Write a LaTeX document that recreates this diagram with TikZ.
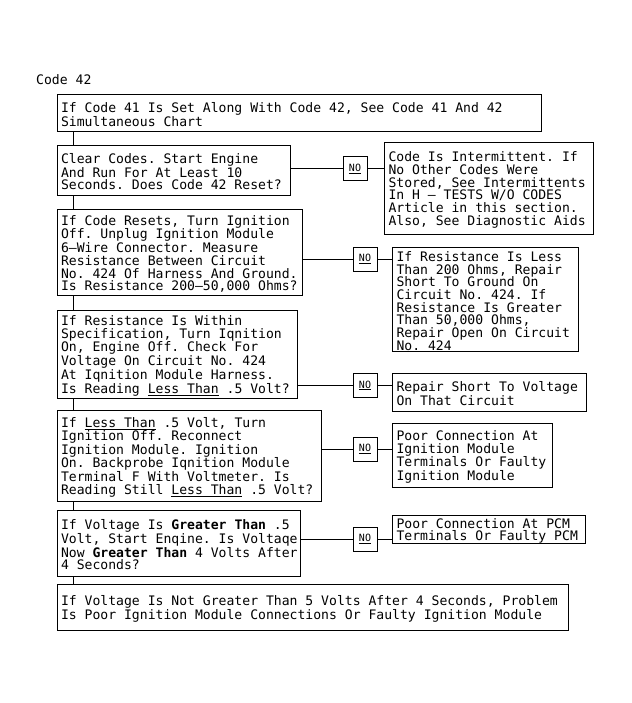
\documentclass[tikz,border=0pt]{standalone}
\usepackage{fontspec}
\newfontfamily\monof{DejaVu Sans Mono}
\newcommand\TL[1]{\par\noindent\mbox{\frenchspacing\spaceskip=0pt\xspaceskip=0pt #1}}
\tikzset{
  mbox/.style={draw, line width=1pt, anchor=north west, inner xsep=4pt, inner ysep=0pt,
    font=\monof\fontsize{13.1}{12.7}\selectfont},
  nobox/.style={draw, line width=1pt, minimum width=24pt, minimum height=24pt, inner sep=0pt,
    font=\monof\fontsize{10}{12}\selectfont},
  conn/.style={line width=1pt},
  ttl/.style={anchor=base west, inner sep=0pt, font=\monof\fontsize{13.1}{12.7}\selectfont}
}
\begin{document}
\begin{tikzpicture}[x=1pt,y=-1pt]
\useasboundingbox[fill=white] (0,0) rectangle (631,703);
\node[ttl] (title) at (36,85) {\TL{Code 42}};
% main column
\node[mbox, text width=476pt, minimum height=37pt] (b1) at (56.5,94)
  {\TL{If Code 41 Is Set Along With Code 42, See Code 41 And 42}\TL{Simultaneous Chart}};
\node[mbox, text width=225pt, minimum height=50pt] (b2) at (56.5,145)
  {\TL{Clear Codes. Start Engine}\TL{And Run For At Least 10}\TL{Seconds. Does Code 42 Reset?}};
\node[mbox, text width=237pt, minimum height=86pt] (b3) at (56.5,209)
  {\TL{If Code Resets, Turn Ignition}\TL{Off. Unplug Ignition Module}\TL{6–Wire Connector. Measure}\TL{Resistance Between Circuit}\TL{No. 424 Of Harness And Ground.}\TL{Is Resistance 200–50,000 Ohms?}};
\node[mbox, text width=232pt, minimum height=88pt] (b4) at (56.5,310)
  {\TL{If Resistance Is Within}\TL{Specification, Turn Iqnition}\TL{On, Engine Off. Check For}\TL{Voltage On Circuit No. 424}\TL{At Iqnition Module Harness.}\TL{Is Reading \underline{Less Than} .5 Volt?}};
\node[mbox, text width=256pt, minimum height=91pt] (b5) at (56.5,410)
  {\TL{If \underline{Less Than} .5 Volt, Turn}\TL{Ignition Off. Reconnect}\TL{Ignition Module. Ignition}\TL{On. Backprobe Iqnition Module}\TL{Terminal F With Voltmeter. Is}\TL{Reading Still \underline{Less Than} .5 Volt?}};
\node[mbox, text width=235pt, minimum height=66pt] (b6) at (56.5,510)
  {\TL{If Voltage Is \textbf{Greater Than} .5}\TL{Volt, Start Enqine. Is Voltaqe}\TL{Now \textbf{Greater Than} 4 Volts After}\TL{4 Seconds?}};
\node[mbox, text width=503pt, minimum height=46pt] (b7) at (56.5,584)
  {\TL{If Voltage Is Not Greater Than 5 Volts After 4 Seconds, Problem}\TL{Is Poor Ignition Module Connections Or Faulty Ignition Module}};
% NO boxes
\node[nobox] (n1) at (355,169) {\underline{NO}};
\node[nobox] (n2) at (365,259) {\underline{NO}};
\node[nobox] (n3) at (365,385.5) {\underline{NO}};
\node[nobox] (n4) at (365,449) {\underline{NO}};
\node[nobox] (n5) at (365,539) {\underline{NO}};
% result boxes
\node[mbox, text width=201pt, minimum height=92pt] (r1) at (384,142)
  {\TL{Code Is Intermittent. If}\TL{No Other Codes Were}\TL{Stored, See Intermittents}\TL{In H – TESTS W/O CODES}\TL{Article in this section.}\TL{Also, See Diagnostic Aids}};
\node[mbox, text width=178pt, minimum height=104pt] (r2) at (392,247)
  {\TL{If Resistance Is Less}\TL{Than 200 Ohms, Repair}\TL{Short To Ground On}\TL{Circuit No. 424. If}\TL{Resistance Is Greater}\TL{Than 50,000 Ohms,}\TL{Repair Open On Circuit}\TL{No. 424}};
\node[mbox, text width=186pt, minimum height=38pt] (r3) at (392,373)
  {\TL{Repair Short To Voltage}\TL{On That Circuit}};
\node[mbox, text width=152pt, minimum height=64pt] (r4) at (392,423)
  {\TL{Poor Connection At}\TL{Ignition Module}\TL{Terminals Or Faulty}\TL{Ignition Module}};
\node[mbox, text width=185pt, minimum height=27pt] (r5) at (392,515)
  {\TL{Poor Connection At PCM}\TL{Terminals Or Faulty PCM}};
% vertical connectors
\draw[conn] ([xshift=16.5pt]b1.south west) -- ([xshift=16.5pt]b2.north west);
\draw[conn] ([xshift=16.5pt]b2.south west) -- ([xshift=16.5pt]b3.north west);
\draw[conn] ([xshift=16.5pt]b3.south west) -- ([xshift=16.5pt]b4.north west);
\draw[conn] ([xshift=16.5pt]b4.south west) -- ([xshift=16.5pt]b5.north west);
\draw[conn] ([xshift=16.5pt]b5.south west) -- ([xshift=16.5pt]b6.north west);
\draw[conn] ([xshift=16.5pt]b6.south west) -- ([xshift=16.5pt]b7.north west);
% horizontal connectors
\draw[conn] (n1 -| b2.east) -- (n1.west);
\draw[conn] (n1.east) -- (n1 -| r1.west);
\draw[conn] (n2 -| b3.east) -- (n2.west);
\draw[conn] (n2.east) -- (n2 -| r2.west);
\draw[conn] (n3 -| b4.east) -- (n3.west);
\draw[conn] (n3.east) -- (n3 -| r3.west);
\draw[conn] (n4 -| b5.east) -- (n4.west);
\draw[conn] (n4.east) -- (n4 -| r4.west);
\draw[conn] (n5 -| b6.east) -- (n5.west);
\draw[conn] (n5.east) -- (n5 -| r5.west);
\end{tikzpicture}
\end{document}
